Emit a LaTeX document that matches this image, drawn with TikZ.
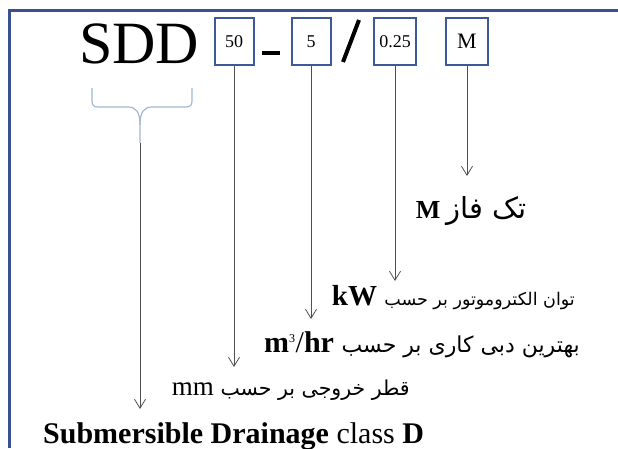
\documentclass[tikz,border=0pt]{standalone}
\usepackage{fontspec}
\setmainfont{Liberation Serif}
\newfontfamily\fa[Script=Arabic]{DejaVu Sans}
\TeXXeTstate=1
\usetikzlibrary{arrows.meta}
\definecolor{frameblue}{HTML}{3B4F94}
\definecolor{boxblue}{HTML}{3D5A98}
\definecolor{bracecol}{HTML}{A3B8D3}
\definecolor{linegray}{HTML}{505050}
\begin{document}
\begin{tikzpicture}[x=1pt,y=-1pt,
  codebox/.style={draw=boxblue, line width=2pt, minimum height=47pt, inner sep=0pt, font=\fontsize{18}{18}\selectfont},
  lbl/.style={inner sep=0pt, anchor=base east},
  arr/.style={draw=linegray, line width=0.8pt, -{Straight Barb[length=9pt,width=11pt,line width=0.8pt]}},
  brace/.style={draw=bracecol, line width=1.2pt}]
\useasboundingbox (0,0) rectangle (618,448);
\fill[white] (0,0) rectangle (618,448);
\draw[frameblue, line width=3pt] (9,448) -- (9,10) -- (618,10);
% code line
\node[inner sep=0pt, anchor=base west, font=\fontsize{60}{60}\selectfont] (sdd) at (79,63) {SDD};
\node[codebox, minimum width=39pt] (b50) at (234,41.5) {50};
\node[codebox, minimum width=39pt] (b5) at (311,41.5) {5};
\node[codebox, minimum width=42pt] (b025) at (395,41.5) {0.25};
\node[codebox, minimum width=42pt, font=\fontsize{22}{22}\selectfont] (bM) at (467,41.5) {M};
\draw[line width=3.5pt] (262,53) -- (280,53);
\draw[line width=4pt] (343,62) -- (359,20);
% brace
\draw[brace] (92,88) -- (92,101) .. controls (92,105) and (94,107) .. (98,107) -- (128,107) .. controls (136,107) and (140,112) .. (140,125) -- (140,143);
\draw[brace] (192,88) -- (192,101) .. controls (192,105) and (190,107) .. (186,107) -- (152,107) .. controls (144,107) and (140,112) .. (140,125);
\coordinate (braceTip) at (140,143);
% arrow ends
\coordinate (eM) at (467,176);
\coordinate (e025) at (395,281);
\coordinate (e5) at (311,319);
\coordinate (e50) at (234,367);
\coordinate (eD) at (140,409);
\draw[arr] (bM.south) -- (eM);
\draw[arr] (b025.south) -- (e025);
\draw[arr] (b5.south) -- (e5);
\draw[arr] (b50.south) -- (e50);
\draw[arr] (braceTip) -- (eD);
% labels
\node[lbl] (lM) at (527,218) {\fontsize{26}{26}\selectfont\bfseries M \fa\mdseries\fontsize{29}{29}\selectfont\beginR تک فاز\endR};
\node[lbl] (lkW) at (575,305) {\fontsize{29}{29}\selectfont\bfseries kW \fa\mdseries\fontsize{17.5}{17.5}\selectfont\beginR توان الکتروموتور بر حسب\endR};
\node[lbl] (lm3) at (580,352) {\fontsize{30}{30}\selectfont\bfseries m\textsuperscript{\mdseries\fontsize{12}{12}\selectfont 3}\mdseries/\bfseries hr \fa\mdseries\fontsize{22}{22}\selectfont\beginR بهترین دبی کاری بر حسب\endR};
\node[lbl] (lmm) at (410,395) {\fontsize{27}{27}\selectfont mm \fa\fontsize{20.5}{20.5}\selectfont\beginR قطر خروجی بر حسب\endR};
\node[inner sep=0pt, anchor=base west, font=\fontsize{30}{30}\selectfont] (lD) at (43,443) {\textbf{Submersible} \textbf{Drainage} class \textbf{D}};
\end{tikzpicture}
\end{document}
